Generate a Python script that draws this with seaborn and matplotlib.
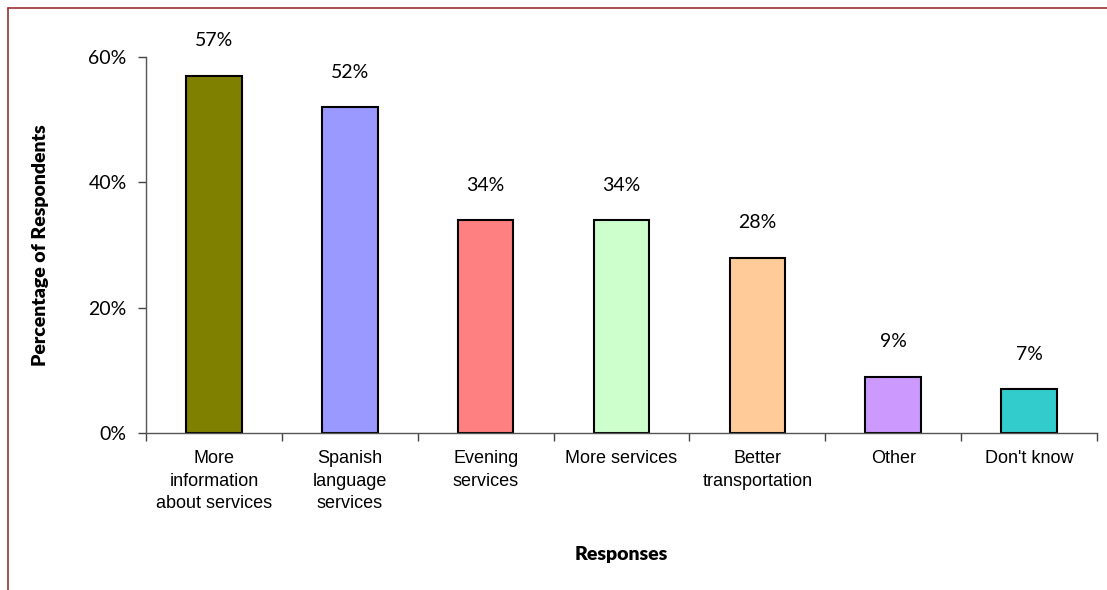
import numpy as np
import pandas as pd
import matplotlib
matplotlib.use('Agg')
import matplotlib.pyplot as plt
import seaborn as sns
from matplotlib.lines import Line2D

# Data
responses = ['More\ninformation\nabout services', 'Spanish\nlanguage\nservices', 'Evening\nservices',
             'More services', 'Better\ntransportation', 'Other', "Don't know"]
percent = [57, 52, 34, 34, 28, 9, 7]
bar_colors = ['#808000', '#9999FF', '#FF8080', '#CCFFCC', '#FFCC99', '#CC99FF', '#33CCCC']

df = pd.DataFrame({'Response': responses, 'Percent': percent})

sns.set_style('white')
plt.rcParams['font.family'] = ['Liberation Sans', 'DejaVu Sans']
plt.rcParams['text.color'] = 'black'
plt.rcParams['axes.labelcolor'] = 'black'
plt.rcParams['xtick.color'] = 'black'
plt.rcParams['ytick.color'] = 'black'

W, H = 1107, 590
fig = plt.figure(figsize=(W / 100, H / 100), dpi=100)
ax = fig.add_axes([146 / W, (H - 433) / H, (1097 - 146) / W, (433 - 57) / H])

sns.barplot(data=df, x='Response', y='Percent', hue='Response', palette=bar_colors,
            saturation=1, width=0.41, edgecolor='black', linewidth=1.5, legend=False, ax=ax)

ax.set_xlim(-0.5, len(responses) - 0.5)
ax.set_ylim(0, 60)
ax.set_yticks([0, 20, 40, 60])
ax.set_yticklabels(['0%', '20%', '40%', '60%'], fontsize=14, family='Lato')
ax.set_xticks(range(len(responses)))
ax.set_xticklabels(responses, fontsize=13, linespacing=1.45)
ax.set_xticks(np.arange(-0.5, len(responses)), minor=True)
ax.tick_params(axis='x', which='major', length=0, pad=12, bottom=True)
ax.tick_params(axis='x', which='minor', length=6, width=1, color='#444444', direction='out', bottom=True)
ax.tick_params(axis='y', length=6, width=1, color='#444444', direction='out', pad=8, left=True)

for side in ['top', 'right']:
    ax.spines[side].set_visible(False)
for side in ['left', 'bottom']:
    ax.spines[side].set_color('#555555')
    ax.spines[side].set_linewidth(1)

for i, v in enumerate(percent):
    ax.annotate(f'{v}%', xy=(i, v), xytext=(0, 19), textcoords='offset points',
                ha='center', va='bottom', fontsize=14, family='Lato')

ax.set_xlabel('Responses', fontsize=14, fontweight='heavy', family='Lato', labelpad=24)
ax.set_ylabel('Percentage of Respondents', fontsize=14, fontweight='heavy', family='Lato', labelpad=28)

# frame border (top and left)
fig.add_artist(Line2D([8 / W, 1], [1 - 8 / H, 1 - 8 / H], color='#9B3030', linewidth=1.2))
fig.add_artist(Line2D([8 / W, 8 / W], [0, 1 - 8 / H], color='#9B3030', linewidth=1.2))

fig.savefig('out.png', dpi=100)
